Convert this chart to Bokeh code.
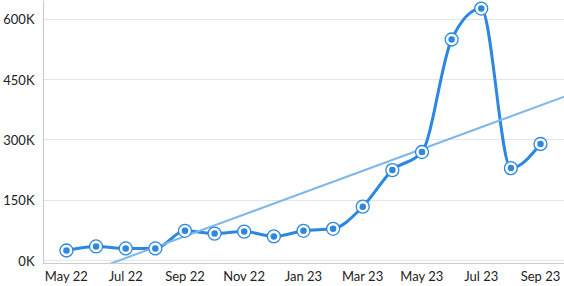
import numpy as np
from bokeh.plotting import figure
from bokeh.models import FixedTicker, Range1d
from bokeh.embed import file_html
from bokeh.resources import INLINE

months = ["May 22", "Jun 22", "Jul 22", "Aug 22", "Sep 22", "Oct 22", "Nov 22", "Dec 22",
          "Jan 23", "Feb 23", "Mar 23", "Apr 23", "May 23", "Jun 23", "Jul 23", "Aug 23", "Sep 23"]
values = [25000, 35000, 30000, 30000, 74000, 67000, 72000, 60000,
          74000, 79000, 134000, 225000, 270000, 550000, 627000, 230000, 290000]
y_ticks = [0, 150000, 300000, 450000, 600000]
y_tick_labels = ["0K", "150K", "300K", "450K", "600K"]

LINE = "#2b87e0"
TREND = "#7db7ec"

x = np.arange(len(values), dtype=float)
y = np.array(values, dtype=float)

p = figure(width=564, height=286, output_backend="svg", toolbar_location=None,
           x_range=Range1d(-0.775, 16.81), y_range=Range1d(-7400, 647000),
           min_border_left=42, min_border_bottom=22, min_border_top=0, min_border_right=0)
p.outline_line_color = None
p.background_fill_color = "white"
p.border_fill_color = "white"

# monotone cubic (d3 monotoneX) bezier segments
h = np.diff(x)
s = np.diff(y) / h
t = np.zeros_like(y)
for i in range(1, len(y) - 1):
    s0, s1 = s[i - 1], s[i]
    pp = (s0 * h[i] + s1 * h[i - 1]) / (h[i - 1] + h[i])
    t[i] = (np.sign(s0) + np.sign(s1)) * min(abs(s0), abs(s1), 0.5 * abs(pp))
t[0] = (3 * s[0] - t[1]) / 2
t[-1] = (3 * s[-1] - t[-2]) / 2
p.bezier(x0=x[:-1], y0=y[:-1], x1=x[1:], y1=y[1:],
         cx0=x[:-1] + h / 3, cy0=y[:-1] + h * t[:-1] / 3,
         cx1=x[1:] - h / 3, cy1=y[1:] - h * t[1:] / 3,
         line_color=LINE, line_width=3)

# linear trend
m, b = np.polyfit(x, y, 1)
xr = np.array([p.x_range.start, p.x_range.end])
p.line(xr, m * xr + b, line_color=TREND, line_width=2)

# markers
p.scatter(x, y, size=13, fill_color="white", line_color=LINE, line_width=1.3)
p.scatter(x, y, size=6.5, fill_color=LINE, line_color=None)

p.xgrid.grid_line_color = None
p.ygrid.grid_line_color = "#e6e6e6"
p.ygrid.ticker = FixedTicker(ticks=y_ticks)

p.yaxis.ticker = FixedTicker(ticks=y_ticks)
p.yaxis.major_label_overrides = {v: l for v, l in zip(y_ticks, y_tick_labels)}
xt = list(range(0, len(months), 2))
p.xaxis.ticker = FixedTicker(ticks=xt)
p.xaxis.major_label_overrides = {i: months[i] for i in xt}

for ax in (p.xaxis, p.yaxis):
    ax.axis_line_color = "#cccccc"
    ax.axis_line_width = 1.2
    ax.major_tick_line_color = None
    ax.minor_tick_line_color = None
    ax.major_tick_out = 0
    ax.major_tick_in = 0
    ax.major_label_text_font = "Lato"
    ax.major_label_text_font_size = "13px"
    ax.major_label_text_color = "#222222"
p.yaxis.major_label_standoff = 9
p.xaxis.major_label_standoff = 4

open("out.html", "w").write(file_html(p, INLINE))
